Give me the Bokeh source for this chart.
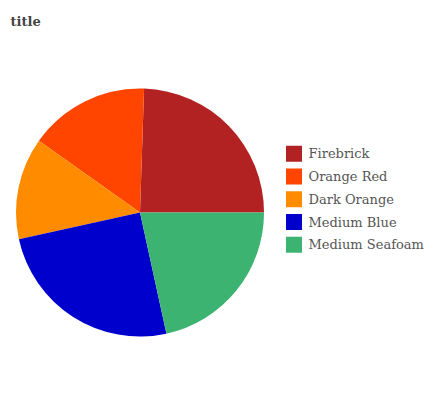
import numpy as np
from bokeh.plotting import figure
from bokeh.models import ColumnDataSource, Range1d
from bokeh.core.properties import value
from bokeh.embed import file_html
from bokeh.resources import INLINE

categories = ["Firebrick", "Orange Red", "Dark Orange", "Medium Blue", "Medium Seafoam"]
values = [24.5, 15.7, 13.3, 25.0, 21.6]
colors = ["#B22222", "#FF4500", "#FF8C00", "#0000CD", "#3CB371"]

W, H = 433, 400
p = figure(width=W, height=H, output_backend="svg", toolbar_location=None,
           x_range=Range1d(0, W), y_range=Range1d(0, H), min_border=0)
p.axis.visible = False
p.grid.visible = False
p.outline_line_color = None
p.background_fill_color = "white"

vals = np.array(values, dtype=float)
frac = vals / vals.sum()
ends = np.cumsum(frac) * 2 * np.pi
starts = np.concatenate([[0.0], ends[:-1]])

src = ColumnDataSource(dict(start=starts, end=ends, color=colors, cat=categories))
p.wedge(x=139.5, y=188, radius=124, radius_units="screen", start_angle="start", end_angle="end",
        direction="anticlock", fill_color="color", line_color=None, source=src)

# title
p.text(x=[10], y=[379], text=["title"], text_font=value("DejaVu Serif"), text_font_size="13px",
       text_font_style="bold", text_color="#444444", text_baseline="alphabetic", text_align="left")

# legend
n = len(categories)
ly = 400 - (153.3 + np.arange(n) * 22.75)
leg = ColumnDataSource(dict(x=[293.5] * n, y=ly, tx=[308] * n, cat=categories, color=colors))
p.rect(x="x", y="y", width=16, height=16, width_units="screen", height_units="screen",
       fill_color="color", line_color=None, source=leg)
p.text(x="tx", y="y", text="cat", text_font=value("DejaVu Serif"), text_font_size="13px",
       text_color="#555555", text_baseline="middle", text_align="left", source=leg)

open("out.html", "w").write(file_html(p, INLINE))
